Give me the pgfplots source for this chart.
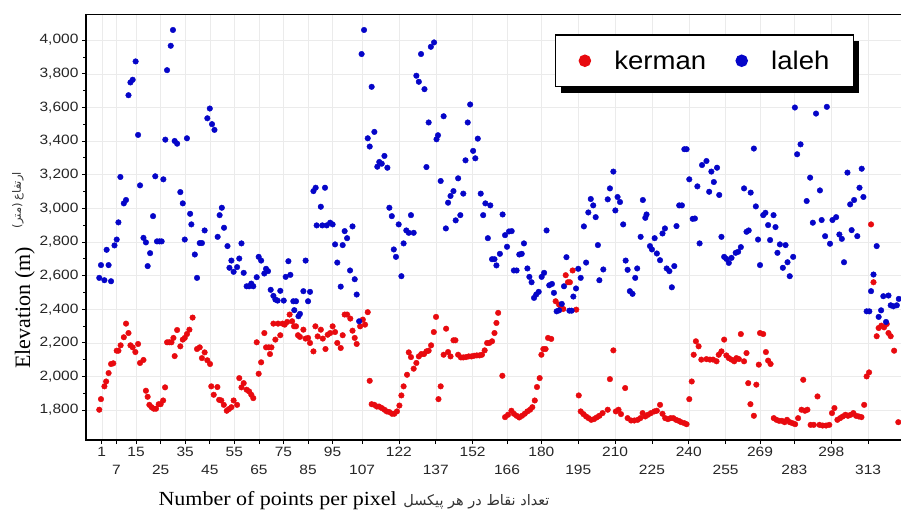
\documentclass[border=0pt]{standalone}
\usepackage{pgfplots}
\pgfplotsset{compat=1.18}
\usepackage{fontspec}
\usetikzlibrary{shadows}
\setmainfont{Liberation Serif}
\newfontfamily\tickfont[FakeStretch=1.15]{Liberation Sans}
\newfontfamily\legfont[FakeStretch=1.08]{Liberation Sans}
\newfontfamily\xlabfont[FakeStretch=1.1]{Liberation Serif}
\newfontfamily\arabicfont[Script=Arabic]{DejaVu Sans}
\newfontfamily\parenfont{DejaVu Sans}
\TeXXeTstate=1
\definecolor{kred}{RGB}{232,10,15}
\definecolor{lblue}{RGB}{5,5,200}

\begin{document}
\begin{tikzpicture}
\begin{axis}[
    at={(0,0)}, anchor=south west,
    scale only axis, width=815pt, height=426pt,
    xmin=-5.4, xmax=326.4, ymin=1622, ymax=4155,
    axis line style={draw=none},
    xtick pos=bottom, ytick pos=left,
    tick align=outside, major tick length=4pt, minor tick length=2.5pt,
    tick style={black, line width=0.6pt},
    xtick={1,15,35,55,75,95,122,152,180,210,240,269,298},
    extra x ticks={7,25,45,65,85,107,137,166,195,225,255,283,313},
    extra x tick style={grid=major, tick label style={yshift=-18pt}},
    ytick={1800,2000,...,4000},
    minor y tick num=1,
    grid=major,
    major grid style={black!8, line width=0.4pt},
    /pgf/number format/assume math mode=true,
    /pgf/number format/1000 sep={,},
    ticklabel style={font=\tickfont\fontsize{13.5}{15}\selectfont, text=black!85},
    clip=false,
    legend columns=2,
    legend image code/.code={\draw[mark repeat=1,mark phase=1,#1,mark size=5.5pt] plot coordinates {(0cm,0cm)};},
    legend style={at={(0.575,0.953)}, anchor=north west,
        draw=black, line width=1.5pt, fill=white,
        inner xsep=24pt, inner ysep=16pt,
        font=\legfont\fontsize{25.5}{28}\selectfont,
        nodes={inner sep=0pt},
        drop shadow={shadow xshift=6pt, shadow yshift=-6pt, fill=black, opacity=1},
        /tikz/every odd column/.append style={column sep=24pt},
        /tikz/every even column/.append style={column sep=30pt}},
]
\addplot[only marks, mark=*, mark size=2.8pt, color=kred, mark options={draw=kred, fill=kred}] table {
x y
0.0 1802
0.7 1865
2.1 1941
2.8 1970
3.8 2020
4.8 2074
5.7 2078
7.1 2153
7.8 2153
8.7 2185
10.0 2233
10.9 2314
11.9 2258
12.7 2185
13.6 2173
14.7 2145
15.8 2193
16.6 2080
18.0 2098
19.0 1915
19.7 1879
20.4 1831
21.3 1817
22.2 1808
23.1 1808
24.2 1835
25.0 1835
26.0 1857
26.8 1935
27.6 2203
28.5 2203
29.4 2203
30.2 2229
30.7 2121
31.7 2276
33.0 2179
34.0 2219
34.8 2229
35.7 2252
36.7 2278
38.0 2350
39.8 2163
40.9 2173
41.8 2109
42.9 2143
44.0 2096
45.1 2074
45.6 1941
46.6 1891
48.1 1937
48.8 1861
49.7 1857
50.7 1831
51.9 1796
52.8 1806
53.8 1817
54.7 1857
56.1 1831
57.0 1990
57.9 1935
58.8 1960
60.0 1921
61.0 1911
61.9 1891
62.7 1871
64.1 2203
64.9 2016
65.9 2084
67.2 2258
67.9 2173
69.0 2173
69.5 2133
70.1 2173
70.9 2314
71.7 2219
72.8 2314
73.7 2245
74.6 2314
75.5 2308
76.5 2324
77.5 2368
78.5 2328
79.3 2298
80.1 2298
80.9 2245
81.7 2235
83.1 2278
84.0 2225
85.0 2229
85.8 2199
87.2 2149
88.0 2298
88.9 2238
90.2 2278
91.0 2225
92.1 2163
93.0 2248
94.0 2258
95.0 2298
96.0 2264
96.9 2199
98.3 2169
99.1 2245
99.9 2368
100.9 2368
102.2 2344
103.1 2272
104.0 2229
104.8 2193
106.2 2298
107.3 2338
108.2 2308
109.3 2382
110.1 1974
110.9 1835
112.0 1831
113.0 1821
113.9 1821
115.0 1812
116.1 1802
117.0 1792
118.1 1788
119.2 1778
120.1 1778
121.2 1792
122.2 1827
123.0 1887
123.9 1941
125.3 2010
126.0 2143
126.9 2115
128.0 2046
129.1 2080
130.1 2119
131.1 2133
132.2 2133
133.2 2149
134.1 2153
135.1 2185
136.2 2264
137.1 2354
138.1 1865
139.0 1941
140.2 2129
141.2 2284
142.0 2145
143.0 2119
144.2 2215
145.0 2215
146.1 2129
147.2 2113
148.2 2113
149.3 2115
150.4 2119
151.5 2119
152.6 2123
153.7 2125
154.8 2125
155.8 2129
156.9 2155
157.9 2199
158.8 2199
159.9 2209
160.9 2258
161.7 2318
162.4 2378
164.1 2004
165.2 1758
166.4 1772
167.8 1796
168.8 1778
169.9 1766
171.0 1756
172.1 1766
173.2 1778
174.3 1792
175.4 1802
176.3 1817
177.3 1857
178.2 1937
179.3 1990
180.0 2129
180.8 2163
181.7 2163
182.7 2229
184.0 2223
185.8 2447
187.2 2427
188.1 2407
188.9 2401
189.9 2602
190.8 2560
191.6 2560
192.7 2630
194.2 2397
195.2 1887
196.0 1792
197.1 1776
198.2 1762
199.2 1752
200.3 1742
201.4 1746
202.5 1756
203.6 1766
204.9 1782
207.0 1802
207.9 1984
209.3 2155
210.3 1792
211.4 1802
212.4 1776
214.1 1931
215.1 1752
216.5 1738
217.8 1738
219.2 1742
220.3 1752
221.2 1782
222.3 1762
223.4 1772
224.6 1782
226.0 1792
227.0 1796
228.3 1831
229.3 1778
230.4 1752
231.5 1746
232.6 1752
233.7 1752
234.8 1742
235.9 1736
236.9 1728
238.2 1722
239.1 1716
240.2 1865
241.2 1970
242.0 2129
242.9 2209
244.0 2179
245.1 2100
247.2 2103
248.6 2100
249.9 2100
251.3 2090
252.2 2129
253.3 2149
254.4 2219
255.3 2125
256.3 2109
257.4 2100
258.5 2090
259.4 2109
260.4 2103
261.2 2252
262.5 2090
263.5 2139
264.2 1960
265.1 1835
266.5 1766
267.5 1951
268.5 2070
269.0 2258
270.3 2252
271.4 2145
272.3 2094
273.3 2074
274.6 1752
275.7 1742
276.8 1736
277.9 1736
279.0 1728
280.0 1742
281.1 1728
282.2 1722
283.3 1716
284.5 1752
285.9 1802
286.6 1980
287.3 1796
288.3 1802
289.6 1712
290.9 1712
292.4 1881
293.2 1712
294.5 1708
295.9 1708
297.2 1712
298.3 1782
299.3 1812
300.5 1742
301.6 1752
302.7 1762
303.8 1772
304.8 1766
305.9 1772
307.0 1782
308.1 1766
309.2 1762
310.3 1758
311.4 1831
312.4 2000
313.4 2024
314.2 2904
315.2 2560
316.5 2239
317.3 2288
318.4 2302
319.5 2292
320.6 2312
321.3 2258
322.2 2239
323.6 2153
325.3 1728
};
\addlegendentry{kerman}
\addplot[only marks, mark=*, mark size=2.8pt, color=lblue, mark options={draw=lblue, fill=lblue}] table {
x y
0.0 2586
0.7 2662
2.1 2572
3.0 2753
3.8 2662
4.8 2566
6.2 2779
7.1 2814
7.8 2916
8.6 3186
10.0 3029
10.9 3049
11.9 3672
12.7 3748
13.6 3764
14.8 3873
15.8 3436
16.6 3136
18.0 2824
19.0 2797
19.7 2656
20.7 2733
21.9 2953
22.8 3190
23.5 2803
24.5 2803
25.4 2803
26.1 3172
26.9 3408
27.6 3821
29.1 3966
30.0 4060
30.7 3400
31.7 3384
33.0 3096
34.0 3029
34.8 2814
35.7 3416
37.0 2967
37.5 2904
38.9 2725
39.8 2586
40.9 2793
41.8 2793
42.9 2868
44.0 3535
45.0 3593
45.9 3500
46.9 3466
48.2 2830
49.0 2959
49.9 3003
50.8 2884
52.2 2775
53.0 2646
53.8 2689
54.7 2622
56.1 2650
57.0 2701
57.9 2791
58.8 2616
60.0 2536
61.0 2536
61.9 2552
62.7 2536
64.1 2590
64.9 2711
65.9 2689
67.2 2612
67.9 2640
68.7 2626
69.8 2515
70.9 2479
71.7 2457
72.6 2451
73.7 2509
75.1 2451
75.9 2592
77.0 2685
77.8 2604
79.0 2447
79.4 2394
80.1 2447
81.1 2358
81.7 2372
83.1 2507
84.0 2689
85.0 2447
85.8 2503
87.2 3102
88.1 3122
88.5 2898
90.2 3009
90.8 2898
91.9 3122
92.6 2898
94.0 2914
95.0 2904
96.0 2785
96.9 2677
98.3 2534
99.1 2781
99.9 2864
100.9 2822
102.1 2630
103.1 2892
104.0 2578
104.8 2487
105.8 2328
106.8 3917
107.8 4060
109.3 3416
110.1 3367
110.9 3722
112.0 3454
113.2 3247
114.0 3275
115.0 3265
116.1 3311
117.3 3241
118.1 3003
119.1 2953
119.9 2755
120.8 2711
121.9 2904
123.0 2596
123.9 2791
125.0 2868
126.0 2854
126.9 2959
128.0 2854
129.1 3788
130.1 3752
131.0 3917
132.4 3708
133.2 3245
134.1 3510
135.0 3960
136.3 3986
137.3 3410
137.9 3434
139.0 3162
140.2 3547
141.1 2880
142.0 3033
143.0 3073
144.2 3102
145.1 2928
146.1 3178
147.0 2959
148.2 3087
149.1 3285
150.0 3510
151.0 3617
152.2 3341
153.1 3297
154.1 3414
155.3 3087
156.3 2959
157.2 3029
158.2 2822
159.2 3017
159.9 2697
160.9 2697
161.7 2660
163.1 2729
164.2 2963
165.2 2840
166.0 2771
166.8 2862
167.9 2864
168.8 2630
169.9 2630
171.0 2725
172.0 2729
172.9 2791
174.3 2642
175.1 2592
176.0 2560
177.0 2467
177.9 2487
178.9 2503
180.1 2592
181.1 2616
182.1 2868
183.2 2542
184.3 2550
185.1 2497
186.2 2387
187.2 2393
188.3 2431
189.2 2536
190.2 2709
191.4 2391
192.3 2391
193.0 2475
194.1 2523
195.0 2640
196.0 2586
197.3 2892
198.2 2677
199.1 2975
200.1 3055
201.1 3017
202.1 2947
203.0 2781
203.6 2572
205.2 2636
207.0 3053
207.9 3118
209.3 3218
210.1 2987
211.0 3067
212.0 3037
213.3 2904
214.3 2689
215.1 2634
216.0 2507
217.1 2491
218.2 2586
219.0 2642
220.4 2830
221.3 3049
222.3 2943
222.8 2963
224.2 2775
225.0 2755
226.1 2822
227.0 2731
228.3 2691
229.3 2850
230.3 2880
231.0 2642
232.1 2626
233.1 2530
234.1 2656
235.0 2894
236.1 3017
237.2 3017
238.2 3351
239.1 3351
240.2 3172
241.6 2937
242.5 2939
243.5 3130
244.4 2791
245.4 3257
247.2 3281
248.3 3098
249.2 3218
250.2 3156
251.5 3241
252.4 3079
253.3 2830
254.4 2711
255.3 2699
256.3 2675
257.4 2705
259.1 2735
260.1 2741
261.2 2769
262.5 3118
263.5 2860
264.4 2868
265.2 3093
266.5 3355
267.3 3011
268.2 2814
269.0 2662
270.3 2959
271.2 2973
272.3 2900
273.1 2811
274.5 2959
275.3 2888
276.1 2735
277.1 2785
278.3 2646
279.4 2781
280.2 2679
281.1 2596
282.5 2711
283.2 3599
284.1 3321
285.5 3380
288.0 3043
289.4 3182
290.5 2914
291.8 3563
293.4 3106
294.1 2930
295.5 2834
296.2 3603
297.5 2789
298.5 2930
300.0 2947
301.3 2844
302.3 2818
303.2 2679
304.6 3212
305.7 3023
306.3 2870
307.3 3049
308.6 2834
309.5 3122
310.4 3235
311.1 3067
312.4 2387
313.5 2387
314.2 2507
315.2 2606
316.5 2775
317.3 2354
318.3 2393
319.2 2477
320.3 2324
321.3 2481
322.2 2423
323.3 2417
324.7 2423
325.5 2461
};
\addlegendentry{laleh}
% frame: heavy left and bottom, thin top
\draw[black, line width=2.2pt] (rel axis cs:0,1) -- (rel axis cs:0,0) -- (rel axis cs:1,0);
\draw[black, line width=0.8pt] (rel axis cs:0,1) -- (rel axis cs:1,1);
% axis titles
\node[rotate=90, anchor=base, font=\fontsize{22}{26}\selectfont] at (rel axis cs:-0.0687,0.31) {Elevation (m)};
\node[rotate=90, anchor=base, font=\fontsize{11.5}{13}\selectfont, text=black!80] at (rel axis cs:-0.080,0.563) {{\parenfont(}{\arabicfont\beginR متر\endR}{\parenfont)} {\arabicfont\beginR ارتفاع\endR}};
\node[anchor=base west, font=\xlabfont\fontsize{20}{24}\selectfont] at (rel axis cs:0.0847,-0.1526) {Number of points per pixel};
\node[anchor=base west, font=\arabicfont\fontsize{14.5}{16}\selectfont, text=black!80] at (rel axis cs:0.385,-0.1526) {\beginR تعداد نقاط در هر پیکسل\endR};
\end{axis}
\pgfresetboundingbox
\path[use as bounding box] (-86pt,-69pt) rectangle (815pt,440pt);
\end{tikzpicture}
\end{document}
